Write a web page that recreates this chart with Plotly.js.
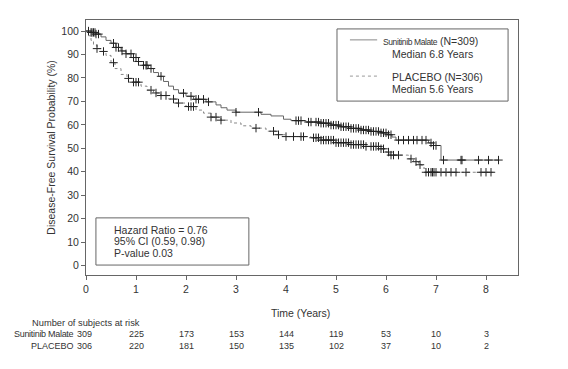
<!DOCTYPE html>
<html><head><meta charset="utf-8">
<script src="https://cdn.plot.ly/plotly-3.0.1.min.js"></script>
<style>html,body{margin:0;padding:0;background:#fff}#chart{width:568px;height:369px}</style>
</head><body><div id="chart"></div>
<script>
// Kaplan-Meier step data (years, % disease-free)
const sunTimes = [0,0.1,0.2,0.3,0.4,0.5,0.6,0.7,0.8,0.95,1.05,1.15,1.25,1.35,1.45,1.55,1.65,1.75,1.85,2.0,2.15,2.4,2.6,2.7,2.82,3.0,3.5,3.7,3.95,4.1,4.4,4.7,4.9,5.1,5.3,5.5,5.7,5.9,6.05,6.12,6.2,6.85,6.95,7.1,8.25];
const sunSurv  = [100,99.4,98.7,97.5,96,94.8,93,91.5,90.3,88.7,87,85.4,84,82.3,80.7,78.5,76.5,75,73.5,72.2,70.9,69.8,68.5,67.3,66.3,65.4,64.5,63.8,62.4,61.8,61.2,60.7,59.9,59.2,58.5,57.8,57.2,56.6,55.8,54.8,53.5,52.3,51.2,45,45];
const plaTimes = [0,0.05,0.1,0.15,0.22,0.3,0.4,0.5,0.58,0.7,0.82,0.95,1.1,1.22,1.35,1.5,1.65,1.8,2.0,2.2,2.35,2.5,2.7,2.9,3.1,3.3,3.6,3.8,4.0,4.5,4.7,5.0,5.3,5.6,5.9,6.0,6.08,6.45,6.55,6.65,6.72,6.78,8.15];
const plaSurv  = [100,98,96,94,92.5,91.3,89.6,86.5,84,81.5,79.8,78.2,76.5,74.8,73.6,72.5,71,69.3,67.8,66.3,65,63.3,62,60.8,59.6,58.6,57.3,55.8,55,54.5,53.5,52.4,51.6,50.8,49.8,48.4,47.1,45.5,44.3,43,41.6,39.8,39.8];
// censoring times
const sunCensor = [0.05,0.1,0.12,0.15,0.18,0.2,0.25,0.55,0.6,0.65,0.72,0.8,0.9,0.95,1.0,1.05,1.15,1.2,1.22,1.3,1.5,1.95,2.1,2.2,2.25,2.35,2.45,3.0,3.45,4.2,4.25,4.3,4.45,4.5,4.6,4.65,4.7,4.75,4.8,4.85,4.9,4.95,5.0,5.05,5.1,5.15,5.2,5.25,5.3,5.35,5.4,5.45,5.5,5.55,5.6,5.65,5.7,5.75,5.8,5.85,5.9,5.95,6.0,6.05,6.1,6.25,6.35,6.45,6.55,6.62,6.72,6.8,6.9,6.95,7.0,7.15,7.5,7.52,7.85,8.05,8.25];
const plaCensor = [0.22,0.35,0.55,0.85,0.95,1.0,1.05,1.3,1.4,1.5,1.6,1.75,1.85,2.05,2.1,2.15,2.5,2.6,2.7,3.4,3.75,3.85,4.0,4.15,4.3,4.35,4.55,4.6,4.65,4.7,4.75,4.8,4.85,4.9,4.95,5.0,5.05,5.1,5.15,5.2,5.25,5.3,5.35,5.4,5.45,5.5,5.55,5.6,5.7,5.75,5.8,5.85,5.9,5.95,6.05,6.1,6.15,6.25,6.5,6.6,6.68,6.8,6.85,6.9,6.93,6.96,7.0,7.1,7.2,7.3,7.4,7.6,7.9,8.0,8.1];
// risk table
const riskYears = [0,1,2,3,4,5,6,7,8];
const sunRisk = [309,225,173,153,144,119,53,10,3];
const plaRisk = [306,220,181,150,135,102,37,10,2];
const yTicks = [0,10,20,30,40,50,60,70,80,90,100];
const xTicks = [0,1,2,3,4,5,6,7,8];

function stepAt(ts, vs, t){let v=vs[0];for(let i=0;i<ts.length;i++){if(ts[i]<=t)v=vs[i];}return v;}

const FONT = 'Liberation Sans, Arial, sans-serif';
const TC = '#333';

const traces = [
 {x:sunTimes,y:sunSurv,mode:'lines',line:{shape:'hv',color:'#666',width:1},showlegend:false},
 {x:plaTimes,y:plaSurv,mode:'lines',line:{shape:'hv',color:'#888',width:1,dash:'dot'},showlegend:false},
 {x:sunCensor,y:sunCensor.map(t=>stepAt(sunTimes,sunSurv,t)),mode:'markers',marker:{symbol:'cross-thin',size:6,line:{width:1,color:'#222'}},showlegend:false},
 {x:plaCensor,y:plaCensor.map(t=>stepAt(plaTimes,plaSurv,t)),mode:'markers',marker:{symbol:'cross-thin',size:6,line:{width:1,color:'#222'}},showlegend:false}
];

const ann = [];
function A(o){ann.push(Object.assign({showarrow:false,font:{family:FONT,size:10.5,color:TC}},o));}
// axis titles
A({xref:'paper',yref:'paper',x:0.497,y:-0.149,text:'Time (Years)',xanchor:'center',yanchor:'middle'});
A({xref:'paper',yref:'paper',x:-0.083,y:0.5,text:'Disease-Free Survival Probability (%)',textangle:-90,xanchor:'center',yanchor:'middle'});
// legend
A({xref:'paper',yref:'paper',x:0.683,y:0.918,xanchor:'left',yanchor:'middle',text:'<span style="font-family:Liberation Sans Narrow, Arial Narrow, sans-serif;font-size:8.5px;letter-spacing:-0.4px">Sunitinib Malate</span> (N=309)'});
A({xref:'paper',yref:'paper',x:0.704,y:0.867,xanchor:'left',yanchor:'middle',text:'Median 6.8 Years'});
A({xref:'paper',yref:'paper',x:0.704,y:0.776,xanchor:'left',yanchor:'middle',text:'PLACEBO (N=306)'});
A({xref:'paper',yref:'paper',x:0.704,y:0.729,xanchor:'left',yanchor:'middle',text:'Median 5.6 Years'});
// HR box
A({xref:'paper',yref:'paper',x:0.060,y:0.176,xanchor:'left',yanchor:'middle',text:'Hazard Ratio = 0.76'});
A({xref:'paper',yref:'paper',x:0.060,y:0.133,xanchor:'left',yanchor:'middle',text:'95% CI (0.59, 0.98)'});
A({xref:'paper',yref:'paper',x:0.060,y:0.088,xanchor:'left',yanchor:'middle',text:'P-value 0.03'});
// risk table
const rf = {family:FONT,size:9,color:TC};
A({xref:'paper',yref:'paper',x:-0.130,y:-0.188,xanchor:'left',yanchor:'middle',text:'Number of subjects at risk',font:{family:FONT,size:9.3,color:TC}});
A({xref:'paper',yref:'paper',x:-0.023,y:-0.231,xanchor:'right',yanchor:'middle',text:'<span style="letter-spacing:-0.3px">Sunitinib Malate</span>',font:rf});
A({xref:'paper',yref:'paper',x:-0.023,y:-0.278,xanchor:'right',yanchor:'middle',text:'PLACEBO',font:rf});
riskYears.forEach((yr,i)=>{
  A({xref:'x',yref:'paper',x:yr,y:-0.231,xanchor:'center',yanchor:'middle',text:String(sunRisk[i]),font:rf,xshift: i===0?-2:0});
  A({xref:'x',yref:'paper',x:yr,y:-0.278,xanchor:'center',yanchor:'middle',text:String(plaRisk[i]),font:rf,xshift: i===0?-2:0});
});

const shapes = [
 {type:'rect',xref:'paper',yref:'paper',x0:0.581,x1:0.977,y0:0.682,y1:0.965,line:{color:'#666',width:1}},
 {type:'line',xref:'paper',yref:'paper',x0:0.611,x1:0.674,y0:0.922,y1:0.922,line:{color:'#888',width:1}},
 {type:'line',xref:'paper',yref:'paper',x0:0.611,x1:0.676,y0:0.780,y1:0.780,line:{color:'#999',width:1,dash:'dot'}},
 {type:'rect',xref:'paper',yref:'paper',x0:0.023,x1:0.377,y0:0.039,y1:0.224,line:{color:'#666',width:1}}
];

const layout = {
 width:568,height:369,margin:{l:86,r:50,t:20,b:94},
 paper_bgcolor:'#fff',plot_bgcolor:'#fff',
 font:{family:FONT,size:10.5,color:TC},
 xaxis:{range:[0,8.64],tickvals:xTicks,ticks:'outside',ticklen:4,tickcolor:'#666',showline:true,linecolor:'#666',linewidth:1,mirror:true,showgrid:false,zeroline:false,tickfont:{family:FONT,size:10.5,color:TC}},
 yaxis:{range:[-4,104.7],tickvals:yTicks,ticks:'outside',ticklen:4,tickcolor:'#666',showline:true,linecolor:'#666',linewidth:1,mirror:true,showgrid:false,zeroline:false,tickfont:{family:FONT,size:10.5,color:TC}},
 annotations:ann,shapes:shapes
};
Plotly.newPlot('chart',traces,layout,{displayModeBar:false,staticPlot:true});
</script></body></html>
